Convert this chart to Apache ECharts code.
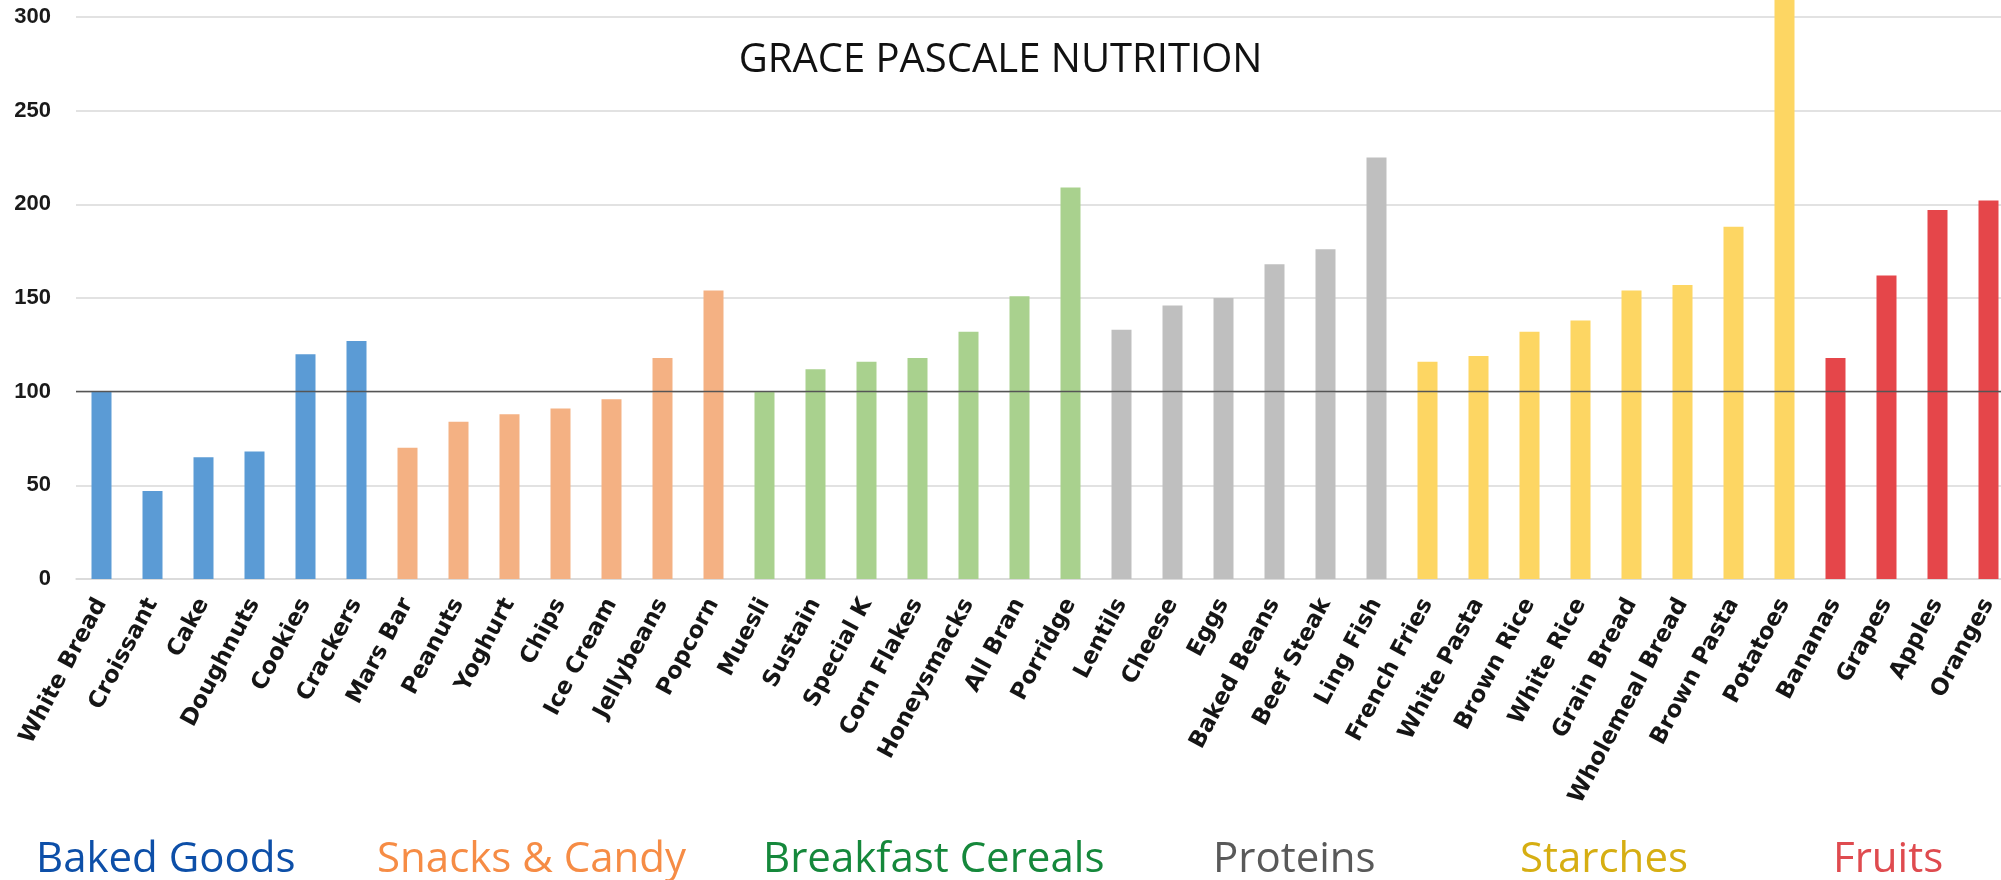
<!DOCTYPE html>
<html>
<head>
<meta charset="utf-8">
<script src="https://cdn.jsdelivr.net/npm/echarts@6/dist/echarts.min.js"></script>
<style>
  html, body { margin: 0; padding: 0; background: #ffffff; }
  #chart { width: 2001px; height: 880px; }
</style>
</head>
<body>
<div id="chart"></div>
<script>
// ---- data ----
const categories = [
  'White Bread', 'Croissant', 'Cake', 'Doughnuts', 'Cookies', 'Crackers',
  'Mars Bar', 'Peanuts', 'Yoghurt', 'Chips', 'Ice Cream', 'Jellybeans', 'Popcorn',
  'Muesli', 'Sustain', 'Special K', 'Corn Flakes', 'Honeysmacks', 'All Bran', 'Porridge',
  'Lentils', 'Cheese', 'Eggs', 'Baked Beans', 'Beef Steak', 'Ling Fish',
  'French Fries', 'White Pasta', 'Brown Rice', 'White Rice', 'Grain Bread', 'Wholemeal Bread', 'Brown Pasta', 'Potatoes',
  'Bananas', 'Grapes', 'Apples', 'Oranges'
];
const values = [
  100, 47, 65, 68, 120, 127,
  70, 84, 88, 91, 96, 118, 154,
  100, 112, 116, 118, 132, 151, 209,
  133, 146, 150, 168, 176, 225,
  116, 119, 132, 138, 154, 157, 188, 323,
  118, 162, 197, 202
];
const groupNames = ['Baked Goods', 'Snacks & Candy', 'Breakfast Cereals', 'Proteins', 'Starches', 'Fruits'];
const groupSizes = [6, 7, 7, 6, 8, 4];
const yTicks = [0, 50, 100, 150, 200, 250, 300];
const referenceValue = 100;
const titleText = 'GRACE PASCALE NUTRITION';

// ---- styles ----
const barColors = ['#5b9bd5', '#f4b183', '#a9d18e', '#bfbfbf', '#fdd663', '#e5464a'];
const groupTextColors = ['#0d4fa8', '#f68c45', '#15883b', '#595959', '#d6ae12', '#df4b4f'];
const groupTextLeft = [36, 377, 763, 1213, 1520, 1833];

const groupIndexOf = [];
groupSizes.forEach((n, g) => { for (let i = 0; i < n; i++) groupIndexOf.push(g); });

const chart = echarts.init(document.getElementById('chart'), null, { renderer: 'canvas' });

const option = {
  backgroundColor: '#ffffff',
  animation: false,
  title: {
    text: titleText,
    left: 'center',
    top: 36,
    textStyle: { fontFamily: 'Open Sans', fontWeight: 'normal', fontSize: 40, color: '#111111' }
  },
  grid: {
    left: 76, top: 17, width: 1938, height: 562,
    containLabel: false, outerBoundsMode: 'none'
  },
  xAxis: {
    type: 'category',
    data: categories,
    axisLine: { show: true, lineStyle: { color: '#d9d9d9', width: 1.5 } },
    axisTick: { show: false },
    axisLabel: {
      interval: 0,
      rotate: 62,
      margin: 21,
      verticalAlign: 'middle',
      padding: [16, 0, 0, 0],
      fontFamily: 'DejaVu Sans',
      fontWeight: 'bold',
      fontSize: 23,
      color: '#151515'
    }
  },
  yAxis: {
    type: 'value',
    min: yTicks[0],
    max: yTicks[yTicks.length - 1],
    interval: yTicks[1] - yTicks[0],
    axisLine: { show: false },
    axisTick: { show: false },
    splitLine: { show: true, lineStyle: { color: '#d9d9d9', width: 1.5 } },
    axisLabel: {
      margin: 25,
      fontFamily: 'Liberation Sans',
      fontWeight: 'bold',
      fontSize: 22,
      color: '#1a1a1a'
    }
  },
  series: [{
    type: 'bar',
    barWidth: 20,
    clip: false,
    data: values.map((v, i) => ({ value: v, itemStyle: { color: barColors[groupIndexOf[i]] } })),
    markLine: {
      silent: true,
      symbol: ['none', 'none'],
      label: { show: false },
      lineStyle: { color: '#555555', width: 1.3, type: 'solid' },
      data: [{ yAxis: referenceValue }]
    }
  }],
  graphic: groupNames.map((name, g) => ({
    type: 'text',
    left: groupTextLeft[g],
    top: 839,
    style: {
      text: name,
      font: '42px "Open Sans"',
      fill: groupTextColors[g]
    }
  }))
};

chart.setOption(option);
</script>
</body>
</html>
